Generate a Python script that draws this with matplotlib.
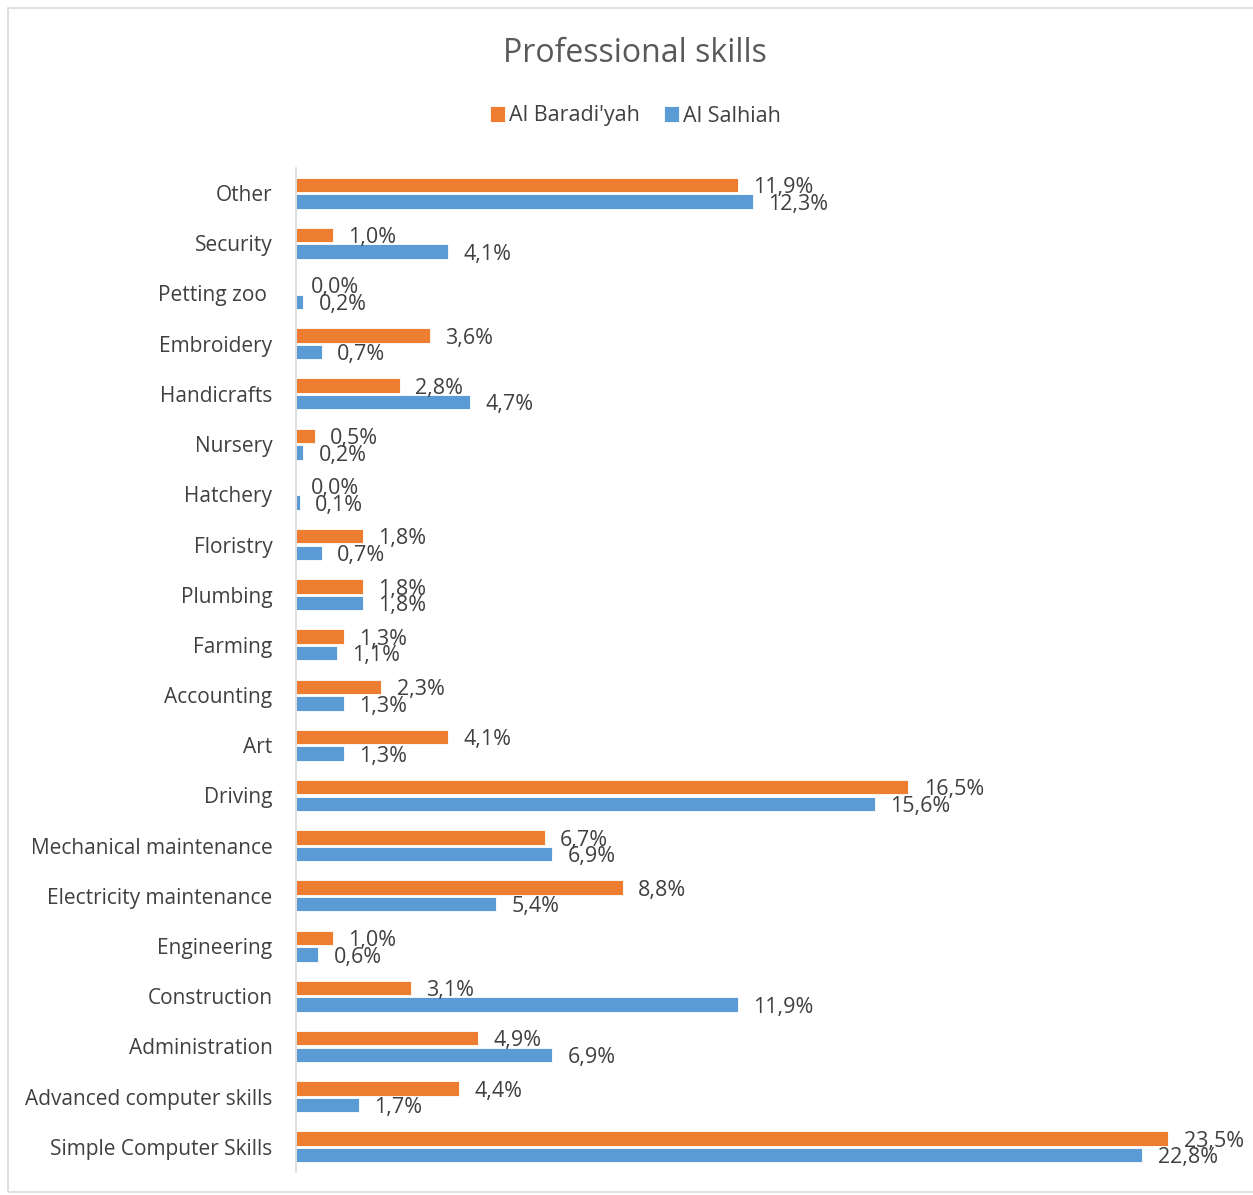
import numpy as np
import matplotlib.pyplot as plt
from matplotlib.patches import Rectangle

plt.rcParams['font.family'] = ['Open Sans', 'DejaVu Sans']

CATEGORIES = [
    'Other', 'Security', 'Petting zoo ', 'Embroidery', 'Handicrafts',
    'Nursery', 'Hatchery', 'Floristry', 'Plumbing', 'Farming',
    'Accounting', 'Art', 'Driving', 'Mechanical maintenance',
    'Electricity maintenance', 'Engineering', 'Construction',
    'Administration', 'Advanced computer skills', 'Simple Computer Skills'
]
BARADIYAH = [11.9, 1.0, 0.0, 3.6, 2.8, 0.5, 0.0, 1.8, 1.8, 1.3,
             2.3, 4.1, 16.5, 6.7, 8.8, 1.0, 3.1, 4.9, 4.4, 23.5]
SALHIAH = [12.3, 4.1, 0.2, 0.7, 4.7, 0.2, 0.1, 0.7, 1.8, 1.1,
           1.3, 1.3, 15.6, 6.9, 5.4, 0.6, 11.9, 6.9, 1.7, 22.8]

ORANGE = '#ED7D31'
BLUE = '#5B9BD5'
TEXT = '#404040'

fig = plt.figure(figsize=(12.53, 11.95), dpi=100)
ax = fig.add_axes([296 / 1253, 1 - 1172 / 1195, (1224 - 296) / 1253, (1172 - 168) / 1195])

n = len(CATEGORIES)
y = np.arange(n)[::-1]
h = 0.29
off = 0.165

b1 = ax.barh(y + off, BARADIYAH, height=h, color=ORANGE, edgecolor='white', linewidth=0.6,
             label="Al Baradi'yah")
b2 = ax.barh(y - off, SALHIAH, height=h, color=BLUE, edgecolor='white', linewidth=0.6,
             label='Al Salhiah')

for bars, vals in [(b1, BARADIYAH), (b2, SALHIAH)]:
    for rect, v in zip(bars, vals):
        ax.annotate(f'{v:.1f}%'.replace('.', ','),
                    (rect.get_width(), rect.get_y() + rect.get_height() / 2),
                    xytext=(11, -2), textcoords='offset points',
                    va='center', ha='left', fontsize=15.5, color=TEXT)

ax.set_xlim(0, 25)
ax.set_ylim(-0.5, n - 0.5)
ax.set_yticks(y)
ax.set_yticklabels(CATEGORIES, fontsize=15, color=TEXT)
ax.tick_params(axis='y', length=0, pad=17)
ax.set_xticks([])
for s in ['top', 'right', 'bottom']:
    ax.spines[s].set_visible(False)
ax.spines['left'].set_color('#D9D9D9')
ax.spines['left'].set_linewidth(1.2)

fig.text(0.507, 1 - 53 / 1195, 'Professional skills', ha='center', va='center',
         fontsize=23, color='#595959')
fig.legend(handles=[b1, b2], loc='center', bbox_to_anchor=(0.507, 1 - 116 / 1195),
           ncol=2, frameon=False, fontsize=15.5, handlelength=0.7, handleheight=0.7,
           handletextpad=0.2, columnspacing=1.1, labelcolor=TEXT)

fig.patches.append(Rectangle((8 / 1253, 3 / 1195), 1.0, 1 - 11 / 1195,
                             transform=fig.transFigure, fill=False,
                             edgecolor='#D9D9D9', linewidth=1.2))

fig.savefig('out.png', dpi=100, facecolor='white')
